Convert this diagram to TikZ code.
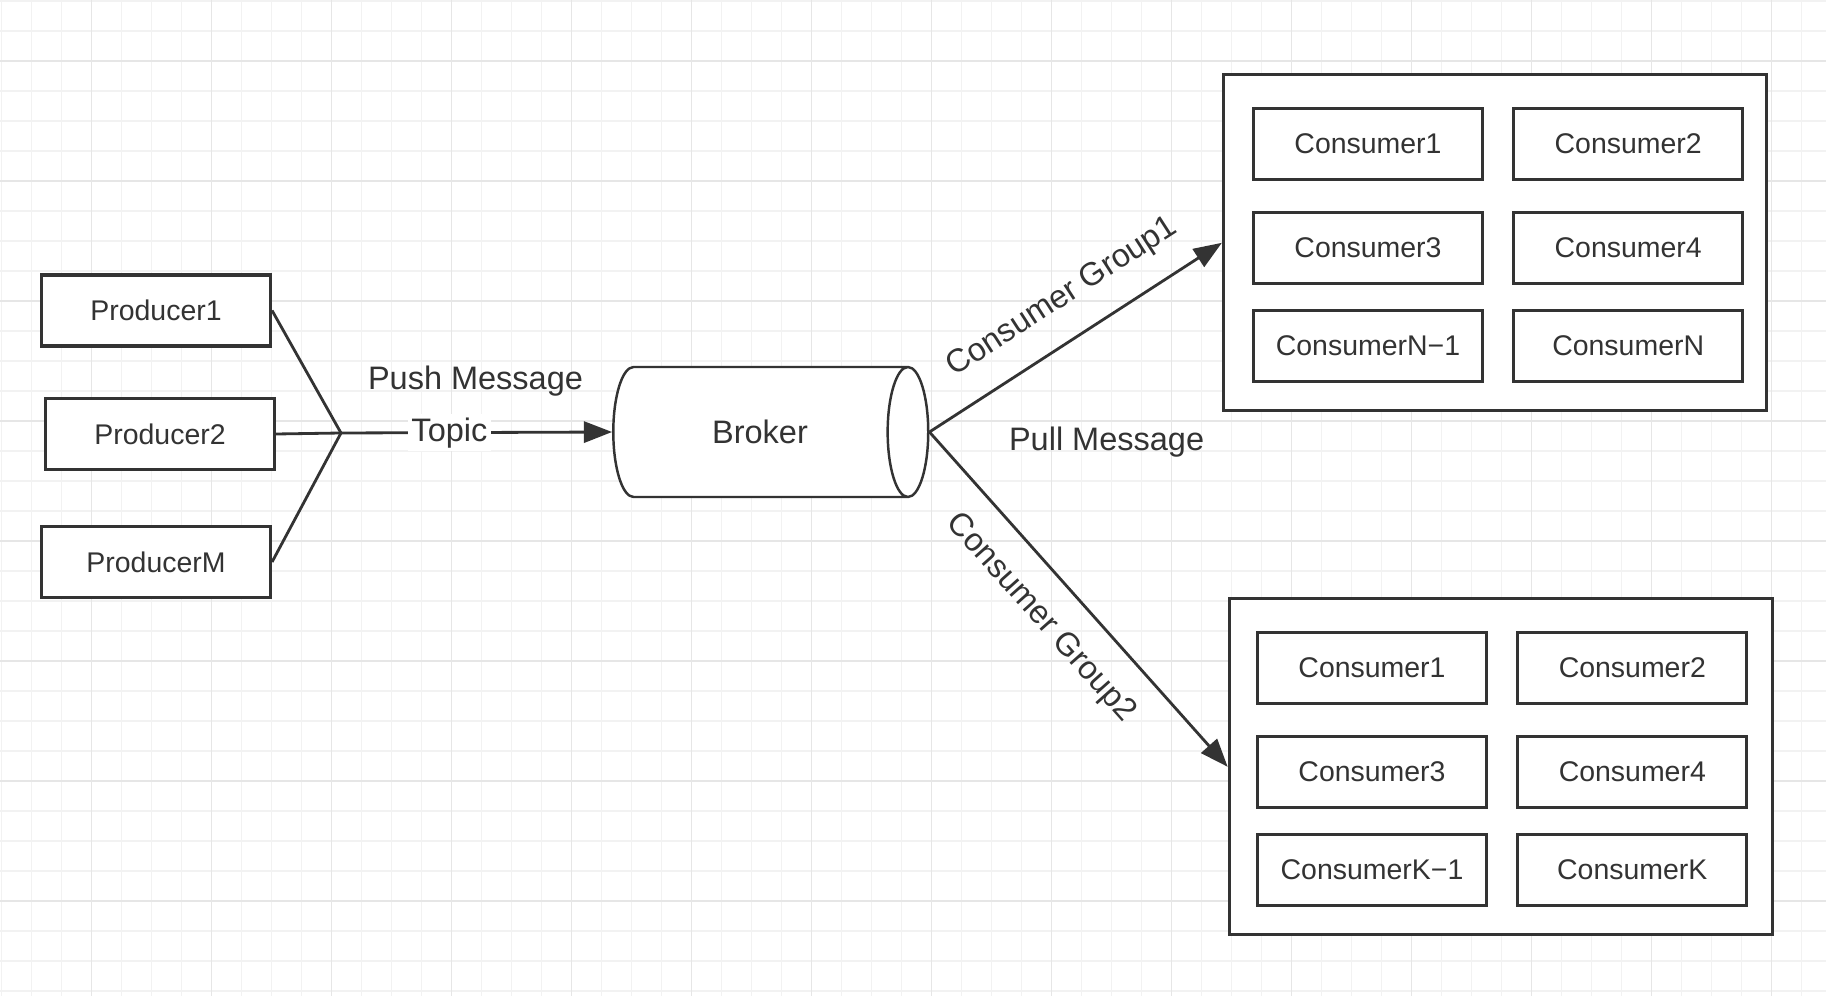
\documentclass[tikz,border=0pt]{standalone}
\usepackage{fontspec}
\setmainfont{Liberation Sans}
\usetikzlibrary{arrows.meta,shapes.geometric}

\definecolor{ink}{HTML}{333333}
\definecolor{gridminor}{HTML}{F2F2F2}
\definecolor{gridmajor}{HTML}{E6E6E6}

\tikzset{
  box/.style={draw=ink, line width=1.8pt, fill=white, minimum width=4.58cm, minimum height=1.42cm,
    inner sep=0pt, font=\fontsize{16.2}{19}\selectfont, text=ink},
  group/.style={draw=ink, line width=1.8pt, fill=white, minimum width=10.86cm, minimum height=6.72cm, inner sep=0pt},
  link/.style={draw=ink, line width=1.6pt},
  arrow/.style={link, -{Triangle[length=16pt,width=12pt]}},
  lbl/.style={font=\fontsize{18.5}{22}\selectfont, text=ink, inner sep=2pt},
}

\begin{document}
\begin{tikzpicture}[x=0.02cm, y=-0.02cm]
  \useasboundingbox (0,0) rectangle (1826,996);
  \fill[white] (0,0) rectangle (1826,996);
  % background grid
  \foreach \x in {1.5,31.5,...,1821.5} \draw[gridminor, line width=1.1pt] (\x,0) -- (\x,996);
  \foreach \y in {1,31,...,991} \draw[gridminor, line width=1.1pt] (0,\y) -- (1826,\y);
  \foreach \x in {91.5,211.5,...,1771.5} \draw[gridmajor, line width=1.1pt] (\x,0) -- (\x,996);
  \foreach \y in {61,181,...,901} \draw[gridmajor, line width=1.1pt] (0,\y) -- (1826,\y);

  % producers
  \node[box] (p1) at (156,310.5) {Producer1};
  \node[box] (p2) at (160,434) {Producer2};
  \node[box] (pm) at (156,562) {ProducerM};
  \coordinate (junction) at (341,433);

  % broker
  \node[cylinder, draw=ink, line width=1.4pt, fill=white, aspect=1.7, minimum height=6.3cm, minimum width=2.6cm,
    inner sep=0pt, font=\fontsize{18.5}{22}\selectfont, text=ink] (broker) at (760,432) {Broker};

  \draw[link] (p1.east) -- (junction);
  \draw[link] (p2.east) -- (junction);
  \draw[link] (pm.east) -- (junction);
  \draw[arrow] (junction) -- node[lbl, pos=0.4, fill=white] (topic) {Topic} (broker.west);
  \node[lbl] (push) at (475.5,381) {Push Message};

  % consumer group 1
  \node[group] (g1) at (1494.9,242.8) {};
  \node[box] (a1) at (1368,144) {Consumer1};
  \node[box] (a2) at (1628.2,144) {Consumer2};
  \node[box] (a3) at (1368,247.7) {Consumer3};
  \node[box] (a4) at (1628.2,247.7) {Consumer4};
  \node[box] (a5) at (1368,346) {ConsumerN\textminus 1};
  \node[box] (a6) at (1628.2,346) {ConsumerN};

  % consumer group 2
  \node[group] (g2) at (1500.7,766.8) {};
  \node[box] (b1) at (1372,668) {Consumer1};
  \node[box] (b2) at (1632.3,668) {Consumer2};
  \node[box] (b3) at (1372,772) {Consumer3};
  \node[box] (b4) at (1632.3,772) {Consumer4};
  \node[box] (b5) at (1372,870) {ConsumerK\textminus 1};
  \node[box] (b6) at (1632.3,870) {ConsumerK};

  \draw[arrow] (broker.east) -- node[lbl, sloped, above=12pt, pos=0.53] {Consumer Group1} (g1.west);
  \draw[arrow] (broker.east) -- node[lbl, sloped, below=12pt, pos=0.475] {Consumer Group2} (g2.west);
  \node[lbl] (pull) at (1106.6,441.7) {Pull Message};
\end{tikzpicture}
\end{document}
